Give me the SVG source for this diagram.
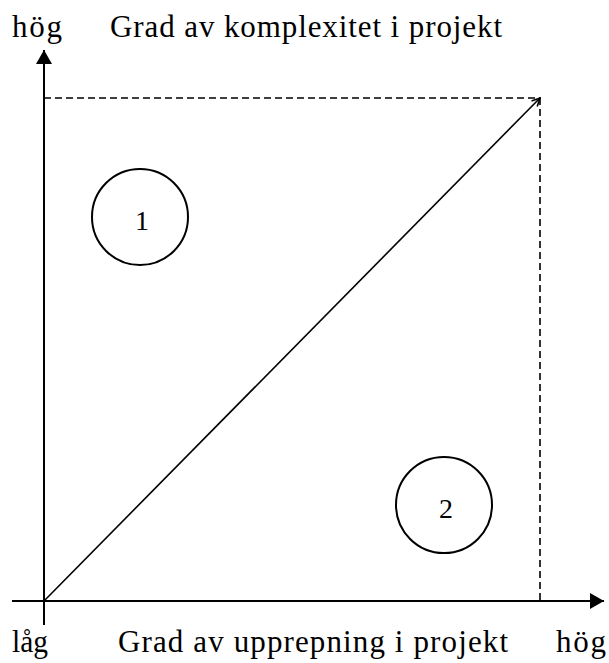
<svg xmlns="http://www.w3.org/2000/svg" width="609" height="663" viewBox="0 0 609 663">
<style>
  text { font-family: "Liberation Serif", "Times New Roman", serif; font-size: 31px; fill: #000; }
  .axis { stroke: #000; stroke-width: 2; fill: none; }
  .dash { stroke: #000; stroke-width: 1.6; stroke-dasharray: 7 4; fill: none; }
  .diag { stroke: #000; stroke-width: 1.6; fill: none; }
  .circ { stroke: #000; stroke-width: 2; fill: #fff; }
  .num { font-size: 28px; text-anchor: middle; }
</style>
<defs>
  <marker id="filled" viewBox="0 0 14 16" refX="14" refY="8" markerWidth="14" markerHeight="16" markerUnits="userSpaceOnUse" orient="auto">
    <path d="M0,0 L14,8 L0,16 Z" fill="#000"/>
  </marker>
  <marker id="open" viewBox="0 0 10 10" refX="9" refY="5" markerWidth="10" markerHeight="10" markerUnits="userSpaceOnUse" orient="auto">
    <path d="M1,1 L9,5 L1,9" fill="none" stroke="#000" stroke-width="1.6"/>
  </marker>
</defs>
<g id="labels">
  <text x="12" y="37" textLength="50" lengthAdjust="spacing">hög</text>
  <text x="110" y="37" textLength="392" lengthAdjust="spacing">Grad av komplexitet i projekt</text>
  <text x="12" y="652" textLength="36" lengthAdjust="spacingAndGlyphs">låg</text>
  <text x="118" y="652" textLength="390" lengthAdjust="spacing">Grad av upprepning i projekt</text>
  <text x="556" y="652" textLength="50" lengthAdjust="spacing">hög</text>
</g>
<g id="connectors">
  <line class="axis" x1="44" y1="625" x2="44" y2="50" marker-end="url(#filled)"/>
  <line class="axis" x1="12" y1="601" x2="604" y2="601" marker-end="url(#filled)"/>
  <line class="dash" x1="44" y1="98" x2="540" y2="98"/>
  <line class="dash" x1="540" y1="98" x2="540" y2="601"/>
  <line class="diag" x1="44" y1="601" x2="540" y2="98" marker-end="url(#open)"/>
</g>
<g id="node1">
  <circle class="circ" cx="140" cy="217" r="48"/>
  <text class="num" x="142" y="230">1</text>
</g>
<g id="node2">
  <circle class="circ" cx="444" cy="505" r="48"/>
  <text class="num" x="446" y="518">2</text>
</g>
</svg>
